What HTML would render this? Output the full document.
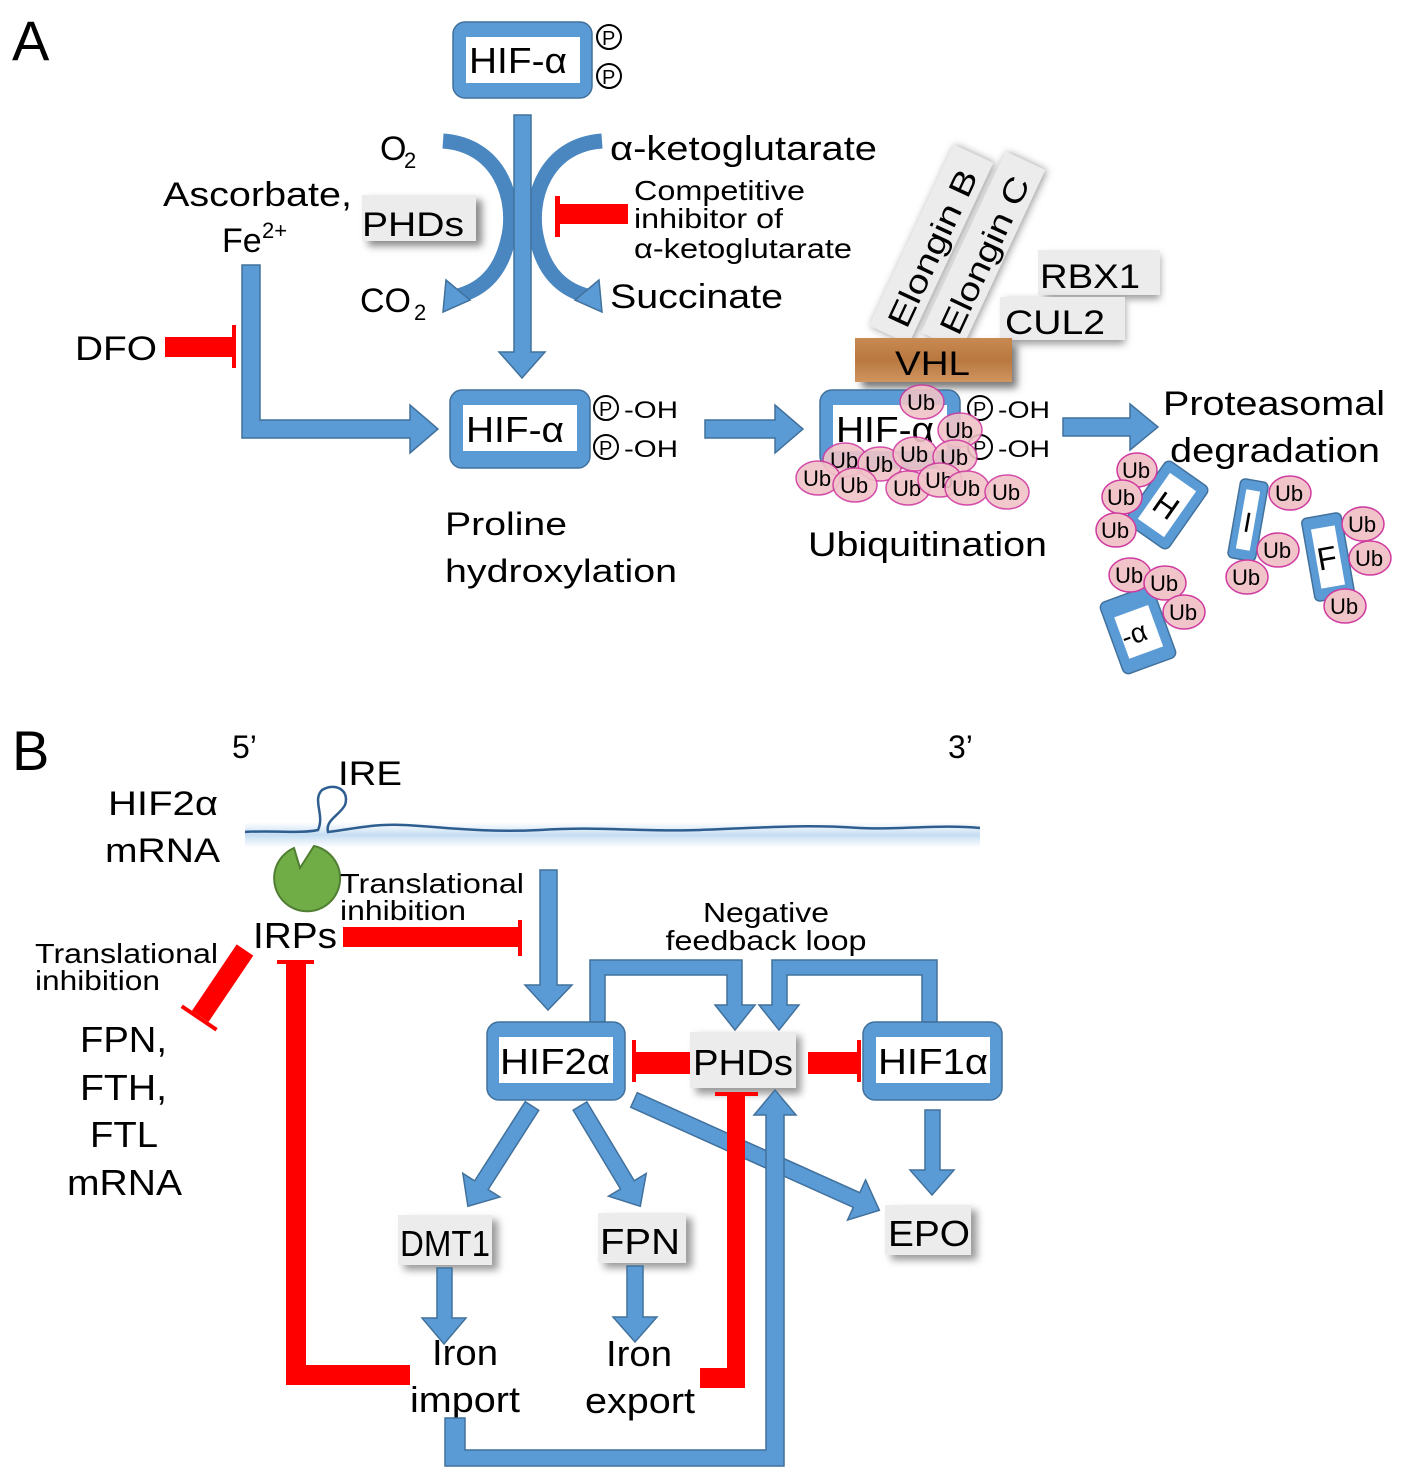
<!DOCTYPE html>
<html><head><meta charset="utf-8"><style>
html,body{margin:0;padding:0;background:#fff}
svg{display:block}
text{font-family:"Liberation Sans",sans-serif;fill:#000}
.bl{fill:#5b9bd5;stroke:#41719c;stroke-width:1.5}
.rd{fill:#ff0000}
.ub{fill:#f0c4c8;stroke:#d03aa0;stroke-width:1.5}
.ubt{font-size:22px}
.gb{fill:#ececec}
</style></head><body>
<svg width="1414" height="1481" viewBox="0 0 1414 1481" xmlns="http://www.w3.org/2000/svg">
<defs>
<filter id="sh" x="-20%" y="-20%" width="140%" height="140%"><feGaussianBlur stdDeviation="4"/></filter>
<linearGradient id="wood" x1="0" y1="0" x2="0" y2="1"><stop offset="0" stop-color="#c98a52"/><stop offset="0.5" stop-color="#b87840"/><stop offset="1" stop-color="#d09560"/></linearGradient>
<linearGradient id="glow" x1="0" y1="0" x2="0" y2="1"><stop offset="0" stop-color="#cfe3f5" stop-opacity="0"/><stop offset="0.5" stop-color="#c4dcf2"/><stop offset="1" stop-color="#cfe3f5" stop-opacity="0"/></linearGradient>
</defs>

<!-- ===== PANEL A ===== -->
<text x="12" y="60" font-size="56">A</text>

<rect x="453" y="22" width="139" height="76" rx="12" class="bl"/>
<rect x="466" y="37" width="114" height="46" fill="#fff"/>
<text x="469" y="73" font-size="36" textLength="98" lengthAdjust="spacingAndGlyphs">HIF-α</text>
<circle cx="609" cy="37" r="12" fill="#fff" stroke="#000" stroke-width="2"/><text x="602" y="45" font-size="20">P</text>
<circle cx="609" cy="76" r="12" fill="#fff" stroke="#000" stroke-width="2"/><text x="602" y="84" font-size="20">P</text>

<path d="M443,141 C500,145 518,200 508,240 C500,275 480,290 458,296" fill="none" stroke="#4a86bf" stroke-width="15"/>
<polygon points="446,280 470,300 443,312" class="bl"/>
<path d="M602,141 C545,145 527,200 537,240 C545,275 565,290 587,296" fill="none" stroke="#4a86bf" stroke-width="15"/>
<polygon points="599,280 575,300 602,312" class="bl"/>

<polygon points="514,115 531,115 531,352 545,352 522,378 499,352 514,352" class="bl"/>

<text x="380" y="160" font-size="34">O</text><text x="404" y="168" font-size="22">2</text>
<text x="610" y="160" font-size="34" textLength="267" lengthAdjust="spacingAndGlyphs">α-ketoglutarate</text>
<text x="163" y="206" font-size="34" textLength="189" lengthAdjust="spacingAndGlyphs">Ascorbate,</text>
<text x="222" y="252" font-size="34">Fe</text><text x="262" y="238" font-size="22">2+</text>
<rect x="368" y="200" width="114" height="46" fill="#888" filter="url(#sh)"/>
<rect x="362" y="195" width="114" height="46" class="gb"/>
<text x="362" y="236" font-size="34" textLength="102" lengthAdjust="spacingAndGlyphs">PHDs</text>
<text x="360" y="312" font-size="34">CO</text><text x="414" y="320" font-size="22">2</text>
<text x="610" y="308" font-size="34" textLength="173" lengthAdjust="spacingAndGlyphs">Succinate</text>
<text x="634" y="200" font-size="28" textLength="171" lengthAdjust="spacingAndGlyphs">Competitive</text>
<text x="634" y="228" font-size="28" textLength="149" lengthAdjust="spacingAndGlyphs">inhibitor of</text>
<text x="634" y="258" font-size="28" textLength="218" lengthAdjust="spacingAndGlyphs">α-ketoglutarate</text>
<rect x="560" y="204" width="68" height="20" class="rd"/>
<rect x="555" y="196" width="5" height="41" class="rd"/>

<text x="75" y="360" font-size="34" textLength="82" lengthAdjust="spacingAndGlyphs">DFO</text>
<rect x="165" y="337" width="68" height="20" class="rd"/>
<rect x="232" y="325" width="4" height="43" class="rd"/>

<polygon points="242,265 260,265 260,420 410,420 410,405 438,429 410,453 410,438 242,438" class="bl"/>

<rect x="450" y="390" width="140" height="78" rx="12" class="bl"/>
<rect x="463" y="405" width="114" height="46" fill="#fff"/>
<text x="466" y="442" font-size="36" textLength="98" lengthAdjust="spacingAndGlyphs">HIF-α</text>
<circle cx="606" cy="408" r="12" fill="#fff" stroke="#000" stroke-width="2"/><text x="599" y="416" font-size="20">P</text>
<circle cx="606" cy="447" r="12" fill="#fff" stroke="#000" stroke-width="2"/><text x="599" y="455" font-size="20">P</text>
<text x="624" y="418" font-size="24" textLength="54" lengthAdjust="spacingAndGlyphs">-OH</text>
<text x="624" y="457" font-size="24" textLength="54" lengthAdjust="spacingAndGlyphs">-OH</text>
<text x="445" y="535" font-size="32" textLength="122" lengthAdjust="spacingAndGlyphs">Proline</text>
<text x="445" y="582" font-size="32" textLength="232" lengthAdjust="spacingAndGlyphs">hydroxylation</text>

<polygon points="705,420 775,420 775,405 803,429 775,453 775,438 705,438" class="bl"/>

<g transform="translate(933,245) rotate(-65)">
<rect x="-100" y="-22" width="200" height="44" fill="#999" filter="url(#sh)"/>
<rect x="-100" y="-24" width="200" height="44" class="gb"/>
<text x="-88" y="12" font-size="32" textLength="170" lengthAdjust="spacingAndGlyphs">Elongin B</text></g>
<g transform="translate(985,252) rotate(-65)">
<rect x="-100" y="-22" width="200" height="44" fill="#999" filter="url(#sh)"/>
<rect x="-100" y="-24" width="200" height="44" class="gb"/>
<text x="-88" y="12" font-size="32" textLength="170" lengthAdjust="spacingAndGlyphs">Elongin C</text></g>
<rect x="1045" y="255" width="115" height="44" fill="#999" filter="url(#sh)"/>
<rect x="1038" y="250" width="122" height="45" class="gb"/>
<text x="1040" y="288" font-size="34" textLength="100" lengthAdjust="spacingAndGlyphs">RBX1</text>
<rect x="1005" y="300" width="120" height="44" fill="#999" filter="url(#sh)"/>
<rect x="1000" y="297" width="125" height="43" class="gb"/>
<text x="1005" y="334" font-size="34" textLength="100" lengthAdjust="spacingAndGlyphs">CUL2</text>
<rect x="862" y="344" width="155" height="44" fill="#777" filter="url(#sh)"/>
<rect x="855" y="338" width="157" height="44" fill="url(#wood)"/>
<text x="895" y="375" font-size="34" textLength="75" lengthAdjust="spacingAndGlyphs">VHL</text>

<rect x="820" y="390" width="140" height="78" rx="12" class="bl"/>
<rect x="833" y="405" width="114" height="46" fill="#fff"/>
<text x="836" y="442" font-size="36" textLength="98" lengthAdjust="spacingAndGlyphs">HIF-α</text>
<circle cx="980" cy="408" r="12" fill="#fff" stroke="#000" stroke-width="2"/><text x="973" y="416" font-size="20">P</text>
<circle cx="980" cy="447" r="12" fill="#fff" stroke="#000" stroke-width="2"/><text x="973" y="455" font-size="20">P</text>
<text x="998" y="418" font-size="24" textLength="52" lengthAdjust="spacingAndGlyphs">-OH</text>
<text x="998" y="457" font-size="24" textLength="52" lengthAdjust="spacingAndGlyphs">-OH</text>
<g>
<ellipse cx="922" cy="402" rx="22" ry="17" class="ub" opacity="0.9"/><text x="907" y="410" class="ubt">Ub</text>
<ellipse cx="960" cy="430" rx="22" ry="17" class="ub" opacity="0.9"/><text x="945" y="438" class="ubt">Ub</text>
<ellipse cx="845" cy="460" rx="22" ry="17" class="ub" opacity="0.9"/><text x="830" y="468" class="ubt">Ub</text>
<ellipse cx="880" cy="464" rx="22" ry="17" class="ub" opacity="0.9"/><text x="865" y="472" class="ubt">Ub</text>
<ellipse cx="915" cy="454" rx="22" ry="17" class="ub" opacity="0.9"/><text x="900" y="462" class="ubt">Ub</text>
<ellipse cx="955" cy="457" rx="22" ry="17" class="ub" opacity="0.9"/><text x="940" y="465" class="ubt">Ub</text>
<ellipse cx="818" cy="478" rx="22" ry="17" class="ub" opacity="0.9"/><text x="803" y="486" class="ubt">Ub</text>
<ellipse cx="855" cy="485" rx="22" ry="17" class="ub" opacity="0.9"/><text x="840" y="493" class="ubt">Ub</text>
<ellipse cx="908" cy="488" rx="22" ry="17" class="ub" opacity="0.9"/><text x="893" y="496" class="ubt">Ub</text>
<ellipse cx="940" cy="480" rx="22" ry="17" class="ub" opacity="0.9"/><text x="925" y="488" class="ubt">Ub</text>
<ellipse cx="967" cy="488" rx="22" ry="17" class="ub" opacity="0.9"/><text x="952" y="496" class="ubt">Ub</text>
<ellipse cx="1007" cy="492" rx="22" ry="17" class="ub" opacity="0.9"/><text x="992" y="500" class="ubt">Ub</text>
</g>
<text x="808" y="556" font-size="34" textLength="239" lengthAdjust="spacingAndGlyphs">Ubiquitination</text>

<polygon points="1063,418 1130,418 1130,404 1158,427 1130,450 1130,436 1063,436" class="bl"/>
<text x="1163" y="415" font-size="34" textLength="222" lengthAdjust="spacingAndGlyphs">Proteasomal</text>
<text x="1170" y="462" font-size="34" textLength="210" lengthAdjust="spacingAndGlyphs">degradation</text>

<g transform="translate(1167,505) rotate(-55)"><rect x="-38" y="-26" width="76" height="52" rx="6" class="bl"/><rect x="-28" y="-16" width="56" height="32" fill="#fff"/><text x="-12" y="12" font-size="32" transform="rotate(90)">H</text></g>
<g transform="translate(1248,520) rotate(10)"><rect x="-14" y="-40" width="28" height="80" rx="5" class="bl"/><rect x="-7" y="-30" width="14" height="60" fill="#fff"/><text x="-4" y="12" font-size="28">I</text></g>
<g transform="translate(1328,557) rotate(-10)"><rect x="-20" y="-42" width="40" height="84" rx="5" class="bl"/><rect x="-12" y="-30" width="24" height="60" fill="#fff"/><text x="-11" y="12" font-size="32">F</text></g>
<g transform="translate(1138,630) rotate(-20)"><rect x="-28" y="-38" width="56" height="76" rx="6" class="bl"/><rect x="-18" y="-20" width="36" height="44" fill="#fff"/><text x="-18" y="12" font-size="28">-α</text></g>
<g>
<ellipse cx="1137" cy="470" rx="20" ry="17" class="ub"/><text x="1122" y="478" class="ubt">Ub</text>
<ellipse cx="1122" cy="497" rx="20" ry="17" class="ub"/><text x="1107" y="505" class="ubt">Ub</text>
<ellipse cx="1116" cy="530" rx="20" ry="17" class="ub"/><text x="1101" y="538" class="ubt">Ub</text>
<ellipse cx="1290" cy="493" rx="21" ry="17" class="ub"/><text x="1275" y="501" class="ubt">Ub</text>
<ellipse cx="1278" cy="550" rx="21" ry="17" class="ub"/><text x="1263" y="558" class="ubt">Ub</text>
<ellipse cx="1247" cy="577" rx="21" ry="17" class="ub"/><text x="1232" y="585" class="ubt">Ub</text>
<ellipse cx="1363" cy="524" rx="21" ry="17" class="ub"/><text x="1348" y="532" class="ubt">Ub</text>
<ellipse cx="1370" cy="558" rx="21" ry="17" class="ub"/><text x="1355" y="566" class="ubt">Ub</text>
<ellipse cx="1345" cy="606" rx="21" ry="17" class="ub"/><text x="1330" y="614" class="ubt">Ub</text>
<ellipse cx="1130" cy="575" rx="21" ry="17" class="ub"/><text x="1115" y="583" class="ubt">Ub</text>
<ellipse cx="1165" cy="583" rx="21" ry="17" class="ub"/><text x="1150" y="591" class="ubt">Ub</text>
<ellipse cx="1184" cy="612" rx="21" ry="17" class="ub"/><text x="1169" y="620" class="ubt">Ub</text>
</g>

<!-- ===== PANEL B ===== -->
<text x="12" y="770" font-size="56">B</text>
<text x="232" y="758" font-size="32">5’</text>
<text x="948" y="758" font-size="32">3’</text>
<text x="338" y="785" font-size="34" textLength="64" lengthAdjust="spacingAndGlyphs">IRE</text>
<text x="108" y="815" font-size="34" textLength="110" lengthAdjust="spacingAndGlyphs">HIF2α</text>
<text x="105" y="862" font-size="34" textLength="115" lengthAdjust="spacingAndGlyphs">mRNA</text>

<rect x="245" y="822" width="735" height="26" fill="url(#glow)"/>
<path d="M245,832 C270,830 300,834 318,830 C325,815 312,800 322,790 C335,782 350,790 345,805 C340,815 325,820 328,832 C360,828 380,822 420,826 C470,830 500,832 540,830 C600,826 640,832 700,830 C760,828 800,824 860,828 C900,830 940,824 980,828" fill="none" stroke="#2e5d8f" stroke-width="2.5"/>

<path d="M300,880 m-6,-32 L300,868 L314,846 A33,33 0 1 1 294,848 Z" fill="#70ad47" stroke="#507e32" stroke-width="2"/>

<text x="340" y="893" font-size="28" textLength="184" lengthAdjust="spacingAndGlyphs">Translational</text>
<text x="340" y="920" font-size="28" textLength="126" lengthAdjust="spacingAndGlyphs">inhibition</text>
<text x="253" y="948" font-size="36" textLength="84" lengthAdjust="spacingAndGlyphs">IRPs</text>
<rect x="343" y="927" width="176" height="20" class="rd"/>
<rect x="518" y="920" width="4" height="36" class="rd"/>

<polygon points="540,870 557,870 557,985 572,985 548,1010 525,985 540,985" class="bl"/>

<text x="35" y="963" font-size="28" textLength="183" lengthAdjust="spacingAndGlyphs">Translational</text>
<text x="35" y="990" font-size="28" textLength="125" lengthAdjust="spacingAndGlyphs">inhibition</text>
<g transform="translate(245,950) rotate(124)">
<rect x="0" y="-10" width="80" height="20" class="rd"/><rect x="80" y="-21" width="4" height="42" class="rd"/></g>
<text x="80" y="1052" font-size="36" textLength="87" lengthAdjust="spacingAndGlyphs">FPN,</text>
<text x="80" y="1100" font-size="36" textLength="87" lengthAdjust="spacingAndGlyphs">FTH,</text>
<text x="90" y="1147" font-size="36" textLength="68" lengthAdjust="spacingAndGlyphs">FTL</text>
<text x="67" y="1195" font-size="36" textLength="115" lengthAdjust="spacingAndGlyphs">mRNA</text>

<rect x="286" y="962" width="20" height="423" class="rd"/>
<rect x="277" y="960" width="37" height="4" class="rd"/>
<rect x="286" y="1365" width="124" height="20" class="rd"/>

<polygon points="590,1022 605,1022 605,975 727,975 727,1005 715,1005 735,1030 755,1005 742,1005 742,960 590,960" class="bl"/>
<polygon points="937,1022 922,1022 922,975 787,975 787,1005 799,1005 779,1030 759,1005 772,1005 772,960 937,960" class="bl"/>
<text x="766" y="922" font-size="28" text-anchor="middle" textLength="126" lengthAdjust="spacingAndGlyphs">Negative</text>
<text x="766" y="950" font-size="28" text-anchor="middle" textLength="201" lengthAdjust="spacingAndGlyphs">feedback loop</text>

<rect x="487" y="1022" width="138" height="78" rx="12" class="bl"/>
<rect x="499" y="1037" width="114" height="46" fill="#fff"/>
<text x="500" y="1074" font-size="36" textLength="110" lengthAdjust="spacingAndGlyphs">HIF2α</text>
<rect x="696" y="1036" width="105" height="58" fill="#999" filter="url(#sh)"/>
<rect x="690" y="1032" width="106" height="56" class="gb"/>
<text x="693" y="1075" font-size="36" textLength="100" lengthAdjust="spacingAndGlyphs">PHDs</text>
<rect x="863" y="1022" width="139" height="78" rx="12" class="bl"/>
<rect x="876" y="1037" width="114" height="46" fill="#fff"/>
<text x="878" y="1074" font-size="36" textLength="110" lengthAdjust="spacingAndGlyphs">HIF1α</text>

<rect x="636" y="1052" width="54" height="22" class="rd"/>
<rect x="632" y="1040" width="4" height="42" class="rd"/>
<rect x="808" y="1052" width="50" height="22" class="rd"/>
<rect x="857" y="1040" width="4" height="42" class="rd"/>

<polygon points="0,-8 94,-8 94,-22 119,0 94,22 94,8 0,8" class="bl" transform="translate(532,1106) rotate(122.6)"/>
<polygon points="0,-8 92,-8 92,-22 117,0 92,22 92,8 0,8" class="bl" transform="translate(580,1106) rotate(59)"/>
<polygon points="0,-8 244,-8 244,-22 269,0 244,22 244,8 0,8" class="bl" transform="translate(634,1100) rotate(24.2)"/>
<polygon points="925,1110 940,1110 940,1170 954,1170 932,1195 910,1170 925,1170" class="bl"/>

<rect x="404" y="1220" width="94" height="50" fill="#999" filter="url(#sh)"/>
<rect x="398" y="1215" width="94" height="50" class="gb"/>
<text x="400" y="1256" font-size="36" textLength="90" lengthAdjust="spacingAndGlyphs">DMT1</text>
<rect x="604" y="1218" width="88" height="50" fill="#999" filter="url(#sh)"/>
<rect x="598" y="1213" width="88" height="50" class="gb"/>
<text x="600" y="1254" font-size="36" textLength="80" lengthAdjust="spacingAndGlyphs">FPN</text>
<rect x="891" y="1210" width="86" height="50" fill="#999" filter="url(#sh)"/>
<rect x="885" y="1205" width="86" height="50" class="gb"/>
<text x="888" y="1246" font-size="36" textLength="82" lengthAdjust="spacingAndGlyphs">EPO</text>

<polygon points="437,1268 452,1268 452,1318 466,1318 444,1344 422,1318 437,1318" class="bl"/>
<polygon points="627,1266 643,1266 643,1317 657,1317 635,1342 613,1317 627,1317" class="bl"/>

<text x="432" y="1365" font-size="36" textLength="66" lengthAdjust="spacingAndGlyphs">Iron</text>
<text x="410" y="1412" font-size="36" textLength="110" lengthAdjust="spacingAndGlyphs">import</text>
<text x="606" y="1366" font-size="36" textLength="66" lengthAdjust="spacingAndGlyphs">Iron</text>
<text x="585" y="1413" font-size="36" textLength="110" lengthAdjust="spacingAndGlyphs">export</text>

<rect x="700" y="1368" width="45" height="20" class="rd"/>
<rect x="727" y="1096" width="18" height="292" class="rd"/>
<rect x="715" y="1092" width="43" height="4" class="rd"/>

<polygon points="445,1418 465,1418 465,1450 766,1450 766,1115 754,1115 775,1090 796,1115 784,1115 784,1466 445,1466" class="bl"/>
</svg>
</body></html>
